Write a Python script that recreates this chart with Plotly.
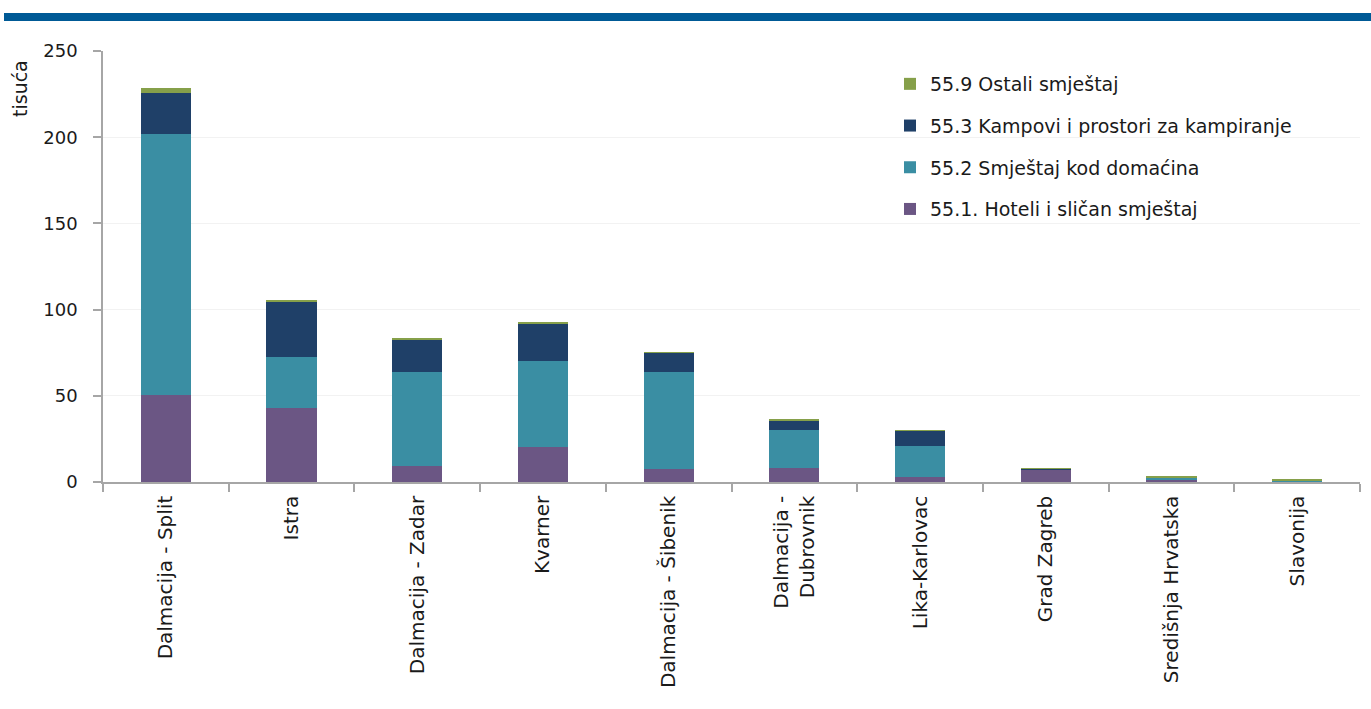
import plotly.graph_objects as go

regions = ["Dalmacija - Split", "Istra", "Dalmacija - Zadar", "Kvarner", "Dalmacija - Šibenik",
           "Dalmacija -<br>Dubrovnik", "Lika-Karlovac", "Grad Zagreb", "Središnja Hrvatska", "Slavonija"]

hoteli = [50.5, 43.1, 9.5, 20.3, 7.5, 8.3, 2.9, 7.1, 1.5, 0.3]
domacin = [151.2, 29.4, 54.3, 50.1, 56.3, 22.0, 18.0, 0.3, 1.0, 0.7]
kampovi = [23.9, 32.3, 18.8, 21.6, 11.4, 5.5, 8.7, 0.6, 0.3, 0.05]
ostali = [2.9, 0.6, 0.7, 0.6, 0.1, 0.7, 0.1, 0.1, 0.5, 0.5]

series = [
    ("55.1. Hoteli i sličan smještaj", hoteli, "#6B5684"),
    ("55.2 Smještaj kod domaćina", domacin, "#3A8EA3"),
    ("55.3 Kampovi i prostori za kampiranje", kampovi, "#1F4068"),
    ("55.9 Ostali smještaj", ostali, "#86A04A"),
]

FONT = "DejaVu Sans"

fig = go.Figure()
for i, (name, vals, col) in enumerate(series):
    fig.add_trace(go.Bar(
        x=regions, y=vals, name=name, legendgroup=f"g{i}", legendrank=100 - i,
        marker=dict(color=col, line=dict(width=0)),
    ))

W, H = 1371, 709
L, R, T, B = 103, 11, 51, 227
pw = W - L - R
ph = H - T - B

def px_x(x):
    return (x - L) / pw

def px_y(y):
    return (H - B - y) / ph

fig.update_layout(
    width=W, height=H,
    barmode="stack", bargap=0.6,
    margin=dict(l=L, r=R, t=T, b=B),
    plot_bgcolor="white", paper_bgcolor="white",
    font=dict(family=FONT, size=19, color="#1a1a1a"),
    showlegend=True,
    legend=dict(
        x=px_x(890), y=px_y(65), xanchor="left", yanchor="top",
        traceorder="grouped", tracegroupgap=14,
        font=dict(family=FONT, size=19, color="#1a1a1a"),
        bgcolor="rgba(0,0,0,0)",
        itemwidth=30,
    ),
    xaxis=dict(
        type="category", tickangle=-90, tickson="boundaries",
        ticks="outside", ticklen=8, tickcolor="#a6a6a6", tickwidth=1.5,
        showline=True, linecolor="#a6a6a6", linewidth=1.5,
        showgrid=False, tickfont=dict(family=FONT, size=20, color="#1a1a1a"),
        ticklabelstandoff=4,
    ),
    yaxis=dict(
        range=[0, 250], tickvals=[0, 50, 100, 150, 200, 250],
        ticks="outside", ticklen=8, tickcolor="#a6a6a6", tickwidth=1.5,
        showline=True, linecolor="#a6a6a6", linewidth=1.5,
        showgrid=True, gridcolor="#f2f2f2", gridwidth=1, zeroline=False,
        tickfont=dict(family=FONT, size=18, color="#1a1a1a"),
        ticklabelstandoff=12,
    ),
    annotations=[dict(
        text="tisuća", xref="paper", yref="paper",
        x=px_x(20), y=px_y(89), xanchor="center", yanchor="middle",
        textangle=-90, showarrow=False,
        font=dict(family=FONT, size=19, color="#1a1a1a"),
    )],
    shapes=[dict(
        type="rect", xref="paper", yref="paper", layer="above",
        x0=px_x(4), x1=px_x(1371), y0=px_y(21), y1=px_y(13),
        fillcolor="#005A96", line=dict(width=0),
    )],
)

fig.write_html(
    "out.html",
    config={"displayModeBar": False},
    post_script="document.body.style.margin='0';document.body.style.padding='0';",
)
